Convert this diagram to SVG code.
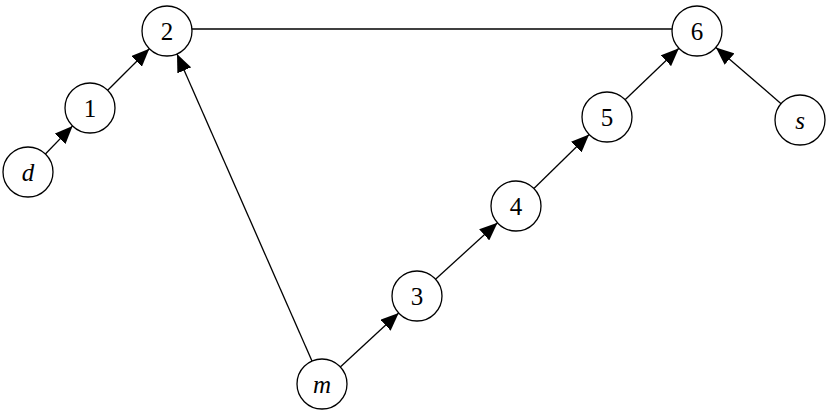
<svg xmlns="http://www.w3.org/2000/svg" width="830" height="418" viewBox="0 0 830 418">
<style>
.n circle{fill:#fff;stroke:#000;stroke-width:1.3}
.n text{font-family:"Liberation Serif",serif;font-size:25px;text-anchor:middle;dominant-baseline:central}
.i{font-style:italic}
.e line{stroke:#000;stroke-width:1.3}
</style>
<defs><marker id="a" markerUnits="userSpaceOnUse" markerWidth="18" markerHeight="15" refX="18" refY="7.5" orient="auto"><path d="M0,0 L18,7.5 L0,15 Z" fill="#000"/></marker></defs>
<rect width="830" height="418" fill="#fff"/>
<g class="e">
<line x1="192" y1="29" x2="672" y2="29"/>
<line x1="45.4" y1="154" x2="72.6" y2="125.9" marker-end="url(#a)"/>
<line x1="107.7" y1="90.3" x2="149.3" y2="48.7" marker-end="url(#a)"/>
<line x1="312" y1="361.1" x2="177" y2="53.9" marker-end="url(#a)"/>
<line x1="340.3" y1="367" x2="398.7" y2="313" marker-end="url(#a)"/>
<line x1="435.5" y1="279.2" x2="497.5" y2="222.8" marker-end="url(#a)"/>
<line x1="533.9" y1="188.5" x2="589.1" y2="134.5" marker-end="url(#a)"/>
<line x1="625.1" y1="99.7" x2="678.9" y2="48.3" marker-end="url(#a)"/>
<line x1="781.1" y1="103.7" x2="715.9" y2="47.4" marker-end="url(#a)"/>
</g>
<g id="n2" class="n"><circle cx="167" cy="31" r="25"/><text x="167" y="31">2</text></g>
<g id="n6" class="n"><circle cx="697" cy="31" r="25"/><text x="697" y="31">6</text></g>
<g id="n1" class="n"><circle cx="90" cy="108" r="25"/><text x="90" y="108">1</text></g>
<g id="nd" class="n"><circle cx="28" cy="172" r="25"/><text class="i" x="28" y="172">d</text></g>
<g id="n5" class="n"><circle cx="607" cy="117" r="25"/><text x="607" y="117">5</text></g>
<g id="ns" class="n"><circle cx="800" cy="120" r="25"/><text class="i" x="800" y="120">s</text></g>
<g id="n4" class="n"><circle cx="516" cy="206" r="25"/><text x="516" y="206">4</text></g>
<g id="n3" class="n"><circle cx="417" cy="296" r="25"/><text x="417" y="296">3</text></g>
<g id="nm" class="n"><circle cx="322" cy="384" r="25"/><text class="i" x="322" y="384">m</text></g>
</svg>
